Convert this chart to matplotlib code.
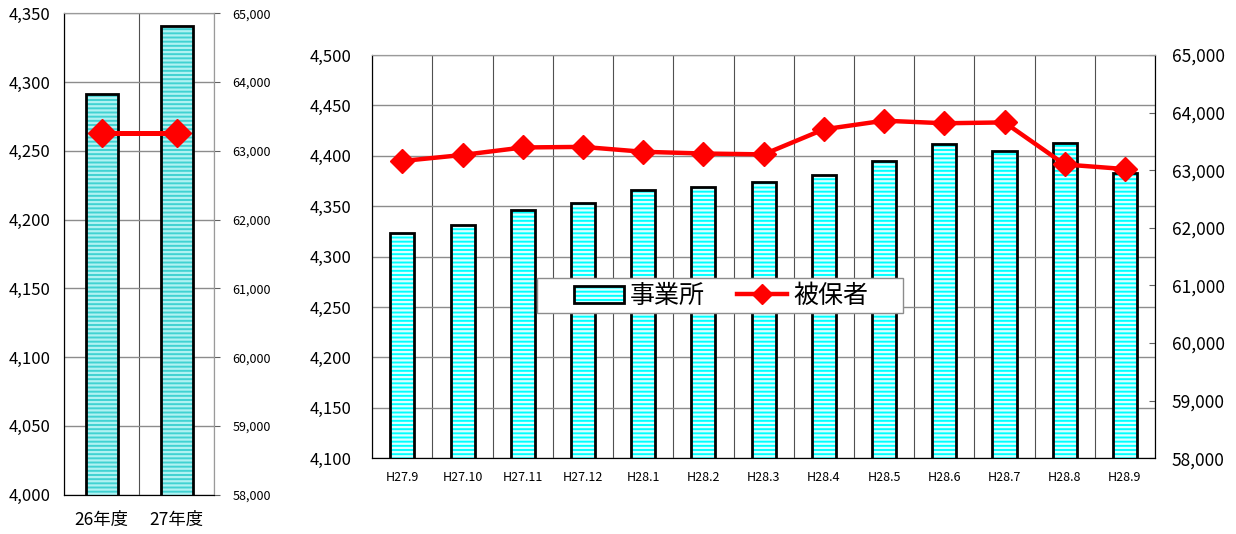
import matplotlib as mpl
import matplotlib.pyplot as plt
from matplotlib.patches import Patch, Rectangle
from matplotlib.lines import Line2D
from matplotlib.legend_handler import HandlerTuple
from matplotlib.ticker import FuncFormatter, MultipleLocator

plt.rcParams['font.family'] = ['Noto Sans CJK JP', 'DejaVu Sans']
plt.rcParams['hatch.linewidth'] = 1.6

# %% data
year_labels = ['26年度', '27年度']
year_offices = [4291, 4341]
year_insured = [63255, 63255]

month_labels = ['H27.9', 'H27.10', 'H27.11', 'H27.12', 'H28.1', 'H28.2', 'H28.3',
                'H28.4', 'H28.5', 'H28.6', 'H28.7', 'H28.8', 'H28.9']
month_offices = [4323, 4331, 4346, 4353, 4366, 4369, 4374,
                 4381, 4395, 4412, 4405, 4413, 4383]
month_insured = [63160, 63265, 63395, 63405, 63320, 63290, 63275,
                 63710, 63860, 63815, 63830, 63100, 63020]

comma = FuncFormatter(lambda v, p: f'{v:,.0f}')


def style_axes(ax, axr, n, lsize, rsize, xsize, lpad, rpad, xpad, rdir):
    ax.set_xlim(-0.5, n - 0.5)
    ax.set_xticks(range(n))
    ax.xaxis.set_minor_locator(MultipleLocator(1, offset=0.5))
    ax.yaxis.set_major_formatter(comma)
    axr.yaxis.set_major_formatter(comma)
    ax.grid(axis='y', which='major', color='#8c8c8c', lw=1.0)
    ax.grid(axis='x', which='minor', color='#505050', lw=0.8)
    ax.set_axisbelow(True)
    ax.tick_params(axis='y', length=0, labelsize=lsize, pad=lpad)
    ax.tick_params(axis='x', which='both', length=0, labelsize=xsize, pad=xpad)
    axr.tick_params(axis='y', direction=rdir, length=4, labelsize=rsize, pad=rpad,
                    color='#606060')
    for a in (ax, axr):
        a.spines['top'].set_color('#9a9a9a')
        a.spines['left'].set_color('black')
        a.spines['bottom'].set_color('black')


fig = plt.figure(figsize=(12.36, 5.34), dpi=100)

# %% yearly chart
ax1 = fig.add_axes([0.0520, 0.0736, 0.1214, 0.9015])
ax1r = ax1.twinx()
x1 = range(len(year_labels))
ax1.bar(x1, year_offices, width=0.42, color='#40d2d2', edgecolor='#b0f2f2',
        hatch='----', lw=0, zorder=2)
ax1.bar(x1, year_offices, width=0.42, fill=False, edgecolor='black', lw=2, zorder=3)
ax1r.plot(x1, year_insured, color='red', lw=3.6, marker='D', ms=14, zorder=4)
ax1.set_ylim(4000, 4350)
ax1.yaxis.set_major_locator(MultipleLocator(50))
ax1r.set_ylim(58000, 65000)
ax1r.yaxis.set_major_locator(MultipleLocator(1000))
ax1.set_xticklabels(year_labels)
style_axes(ax1, ax1r, len(year_labels), 12, 9, 12.5, 10, 9, 12, 'out')
for a in (ax1, ax1r):
    a.spines['right'].set_color('#9a9a9a')

# %% monthly chart
ax2 = fig.add_axes([0.3012, 0.1418, 0.6333, 0.7552])
ax2r = ax2.twinx()
x2 = range(len(month_labels))
ax2.bar(x2, month_offices, width=0.4, color='#00ffff', edgecolor='#dcffff',
        hatch='----', lw=0, zorder=2)
ax2.bar(x2, month_offices, width=0.4, fill=False, edgecolor='black', lw=2, zorder=3)
ax2r.plot(x2, month_insured, color='red', lw=3.2, marker='D', ms=12, zorder=4)
ax2.set_ylim(4100, 4500)
ax2.yaxis.set_major_locator(MultipleLocator(50))
ax2r.set_ylim(58000, 65000)
ax2r.yaxis.set_major_locator(MultipleLocator(1000))
ax2.set_xticklabels(month_labels)
style_axes(ax2, ax2r, len(month_labels), 12, 12.5, 9, 15, 12, 9, 'in')
for a in (ax2, ax2r):
    a.spines['right'].set_color('black')

# %% legend (box drawn separately so it can be wide and flat)
box = Rectangle((537 / 1236, 1 - 313 / 534), 366 / 1236, 35 / 534,
                transform=fig.transFigure, facecolor='white', edgecolor='#8c8c8c',
                lw=1.0, zorder=4)
fig.patches.append(box)
bar_handle = (Patch(facecolor='#00ffff', edgecolor='#dcffff', hatch='----', lw=0),
              Patch(fill=False, edgecolor='black', lw=2))
line_handle = Line2D([], [], color='red', lw=3.2, marker='D', ms=10)
leg = fig.legend([bar_handle, line_handle], ['事業所', '被保者'],
                 handler_map={tuple: HandlerTuple(ndivide=1)},
                 loc='center', bbox_to_anchor=(721 / 1236, 1 - 296 / 534),
                 ncol=2, fontsize=18, frameon=False,
                 handlelength=2.0, handletextpad=0.25, columnspacing=1.3,
                 borderpad=0.2)
leg.set_zorder(5)

fig.savefig('out.png', dpi=100)
